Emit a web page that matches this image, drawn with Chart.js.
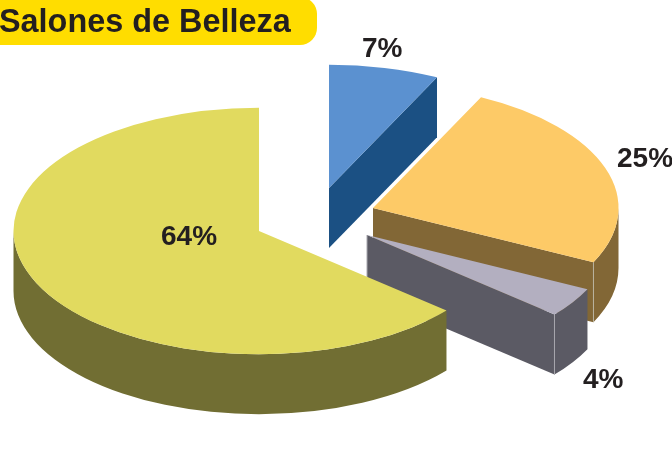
<!DOCTYPE html>
<html>
<head>
<meta charset="utf-8">
<style>html,body{margin:0;padding:0;background:#fff}canvas{display:block}</style>
<script src="https://cdn.jsdelivr.net/npm/chart.js@4"></script>
</head>
<body>
<canvas id="c" width="672" height="449"></canvas>
<script>
const titleText = "Salones de Belleza";
const categories = ["Segmento A", "Segmento B", "Segmento C", "Segmento D"];
const shares = [7.25, 25, 3.92, 63.83];
const shareLabels = ["7%", "25%", "4%", "64%"];

const topColors = ["#5B91D0", "#FDCA67", "#B3AFC0", "#E1DA5F"];
const sideColors = ["#1B5083", "#826736", "#5B5A64", "#716E33"];
const seamColors = [null, "#B9B3A0", "#A8A7AE", null];

const flatten = 0.502, depth = 60, radius = 245.5;
const centers = [[329, 188], [373, 208], [367, 235], [259, 231]];
const labelAnchors = [[362, 57], [617, 167], [583, 388], [161, 245]];
const ink = "#231F20";

const pie3d = {
  id: "pie3d",
  afterDatasetsUpdate(chart) {
    chart.getDatasetMeta(0).data.forEach((el, i) => {
      el.x = centers[i][0];
      el.y = centers[i][1] / flatten;
    });
  },
  beforeDatasetDraw(chart) {
    const ctx = chart.ctx;
    chart.getDatasetMeta(0).data.forEach((el, i) => {
      const { x, startAngle: a0, endAngle: a1, outerRadius: R } = el;
      const y = el.y * flatten, ry = R * flatten;
      const px = a => x + R * Math.cos(a), py = a => y + ry * Math.sin(a);
      ctx.save();
      ctx.fillStyle = sideColors[i];
      const face = a => {
        ctx.beginPath();
        ctx.moveTo(x, y); ctx.lineTo(px(a), py(a));
        ctx.lineTo(px(a), py(a) + depth); ctx.lineTo(x, y + depth);
        ctx.closePath(); ctx.fill();
      };
      if (Math.cos(a0) < -1e-6) face(a0);
      if (Math.cos(a1) > 1e-6) face(a1);
      const from = Math.max(a0, 0), to = Math.min(a1, Math.PI);
      if (to > from) {
        ctx.beginPath();
        ctx.ellipse(x, y, R, ry, 0, from, to);
        ctx.ellipse(x, y + depth, R, ry, 0, to, from, true);
        ctx.closePath(); ctx.fill();
      }
      if (seamColors[i]) {
        ctx.strokeStyle = seamColors[i];
        ctx.lineWidth = 1;
        ctx.beginPath();
        ctx.moveTo(px(a1), py(a1)); ctx.lineTo(px(a1), py(a1) + depth);
        if (i === 2) { ctx.moveTo(x, y); ctx.lineTo(x, y + depth); }
        ctx.stroke();
      }
      ctx.scale(1, flatten);
      el.draw(ctx);
      ctx.restore();
    });
    return false;
  },
  afterDraw(chart) {
    const ctx = chart.ctx;
    ctx.save();
    ctx.fillStyle = ink;
    ctx.textBaseline = "alphabetic";
    ctx.textAlign = "left";
    ctx.font = "bold 28px 'Liberation Sans', Arial, sans-serif";
    shareLabels.forEach((t, i) => ctx.fillText(t, labelAnchors[i][0], labelAnchors[i][1]));
    ctx.restore();
  },
  beforeDraw(chart) {
    const ctx = chart.ctx;
    ctx.save();
    ctx.fillStyle = "#FFDD00";
    ctx.beginPath();
    ctx.roundRect(-40, -3, 357, 48, 17);
    ctx.fill();
    ctx.fillStyle = ink;
    ctx.textBaseline = "alphabetic";
    ctx.textAlign = "left";
    ctx.font = "bold 32.4px 'Liberation Sans', Arial, sans-serif";
    ctx.fillText(titleText, -1, 31.5);
    ctx.restore();
  }
};

new Chart(document.getElementById("c"), {
  type: "pie",
  data: {
    labels: categories,
    datasets: [{ data: shares, backgroundColor: topColors, borderWidth: 0, radius: radius }]
  },
  options: {
    responsive: false,
    animation: false,
    rotation: 0,
    radius: radius,
    plugins: { legend: { display: false }, tooltip: { enabled: false }, title: { display: false } },
    events: []
  },
  plugins: [pie3d]
});
</script>
</body>
</html>
